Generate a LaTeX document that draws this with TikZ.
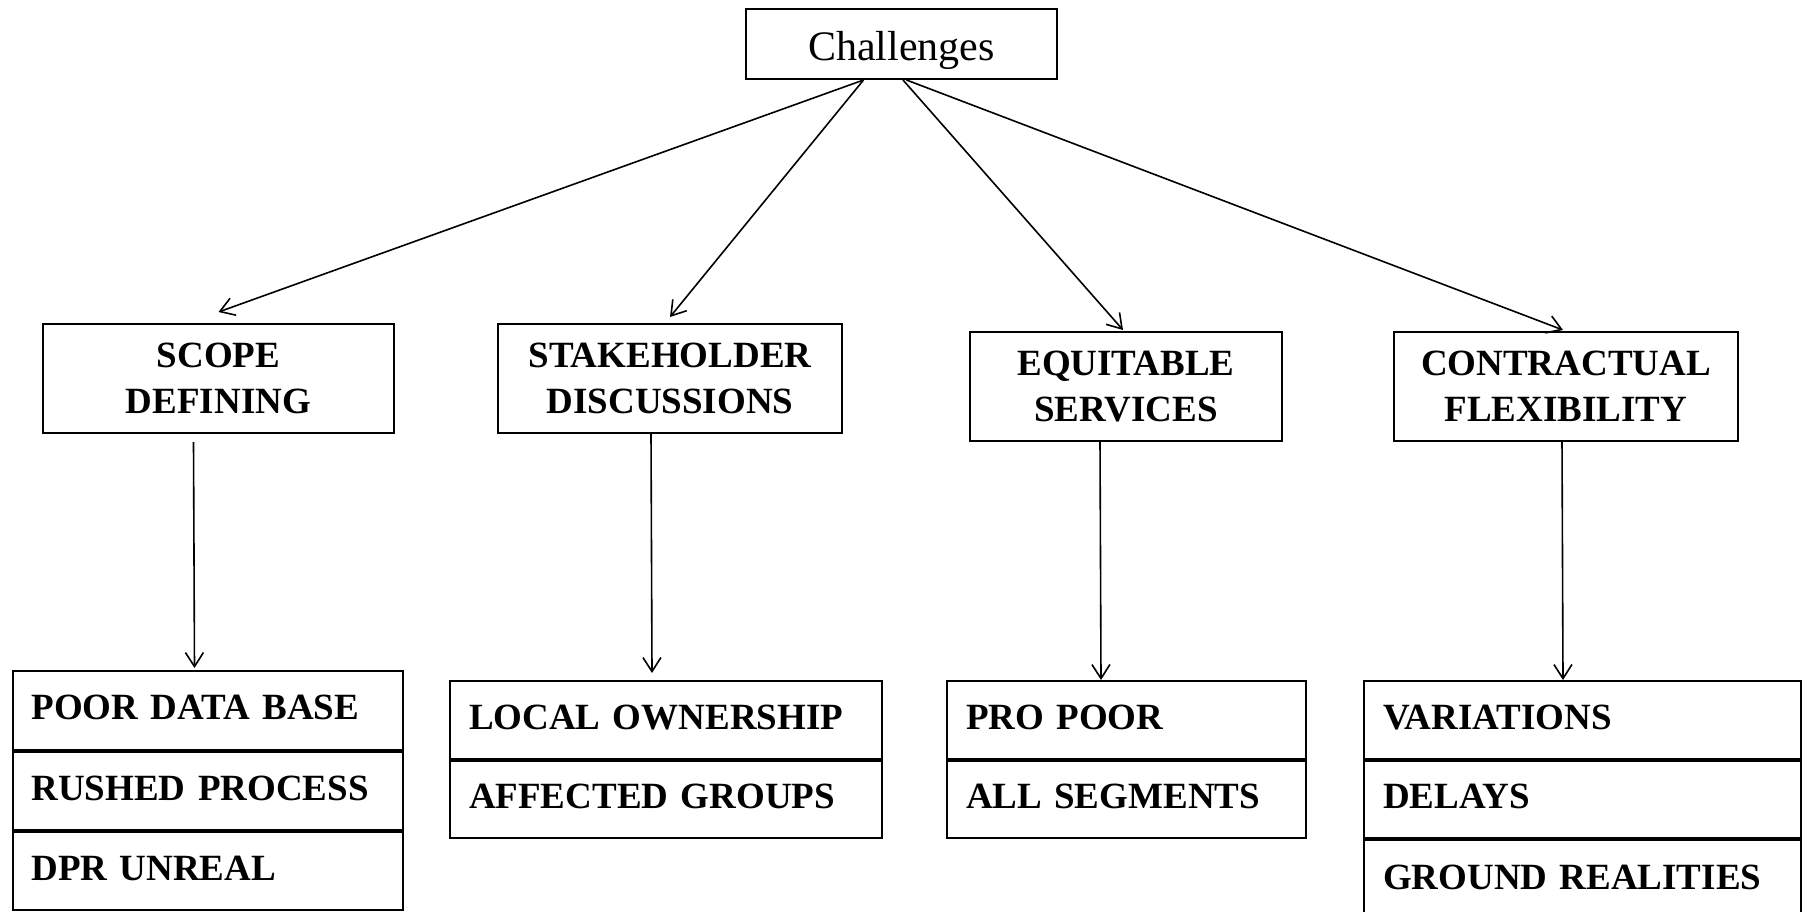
\documentclass[tikz,border=0pt]{standalone}
\usepackage{fontspec}
\setmainfont{Liberation Serif}
\usetikzlibrary{arrows.meta}
\tikzset{
  box/.style={draw, line width=2pt, rectangle, inner sep=0pt, align=center,
    font=\fontsize{37}{46}\selectfont\bfseries},
  row/.style={draw, line width=2pt, rectangle, anchor=north west, inner xsep=19pt, inner ysep=0pt,
    align=left, text height=24.5pt, text depth=6pt,
    font=\fontsize{37}{44}\selectfont\bfseries},
  arr/.style={line width=1.6pt, -{Straight Barb[length=14pt,width=18pt,line width=1.6pt]}}
}
\begin{document}
\begin{tikzpicture}[x=1pt,y=-1pt]
\useasboundingbox (0,0) rectangle (1806,911);
\node[draw, line width=2pt, minimum width=311pt, minimum height=70pt, inner sep=0pt,
  text height=32pt, text depth=0pt,
  font=\fontsize{42}{50}\selectfont] (ch) at (901.5,44) {Challenges};

\node[box, minimum width=351pt, minimum height=109pt] (sd) at (218.5,378.5) {SCOPE\\DEFINING};
\node[box, minimum width=344pt, minimum height=109pt] (sh) at (670,378.5) {STAKEHOLDER\\DISCUSSIONS};
\node[box, minimum width=312pt, minimum height=109pt] (eq) at (1126,386.5) {EQUITABLE\\SERVICES};
\node[box, minimum width=344pt, minimum height=109pt] (cf) at (1566,386.5) {CONTRACTUAL\\FLEXIBILITY};

% lists
\node[row, text width=352.5pt, minimum height=79pt] (l1a) at (11.5,670) {POOR DATA BASE};
\node[row, text width=352.5pt, minimum height=78pt] (l1b) at (l1a.south west) {RUSHED PROCESS};
\node[row, text width=352.5pt, minimum height=78pt] (l1c) at (l1b.south west) {DPR UNREAL};

\node[row, text width=394pt, minimum height=78pt] (l2a) at (449,680) {LOCAL OWNERSHIP};
\node[row, text width=394pt, minimum height=77pt] (l2b) at (l2a.south west) {AFFECTED GROUPS};

\node[row, text width=321pt, minimum height=78pt] (l3a) at (946,680) {PRO POOR};
\node[row, text width=321pt, minimum height=77pt] (l3b) at (l3a.south west) {ALL SEGMENTS};

\node[row, text width=399pt, minimum height=78pt] (l4a) at (1363,680) {VARIATIONS};
\node[row, text width=399pt, minimum height=77pt] (l4b) at (l4a.south west) {DELAYS};
\node[row, text width=399pt, minimum height=80pt] (l4c) at (l4b.south west) {GROUND REALITIES};

% arrows from Challenges
\draw[arr] ([xshift=-38pt]ch.south) -- ([yshift=11pt]sd.north);
\draw[arr] ([xshift=-38pt]ch.south) -- ([yshift=6pt]sh.north);
\draw[arr] ([xshift=1.5pt]ch.south) -- ([xshift=-3pt,yshift=1pt]eq.north);
\draw[arr] ([xshift=5pt]ch.south) -- ([xshift=-3pt,yshift=1pt]cf.north);

% vertical arrows
\draw[arr] ([xshift=-25pt,yshift=-8pt]sd.south) -- ([xshift=-13.25pt,yshift=2pt]l1a.north);
\draw[arr] ([xshift=-19pt]sh.south) -- ([xshift=-14pt,yshift=7pt]l2a.north);
\draw[arr] ([xshift=-26pt]eq.south) -- ([xshift=-25.5pt]l3a.north);
\draw[arr] ([xshift=-4pt]cf.south) -- ([xshift=-19.5pt]l4a.north);
\end{tikzpicture}
\end{document}
